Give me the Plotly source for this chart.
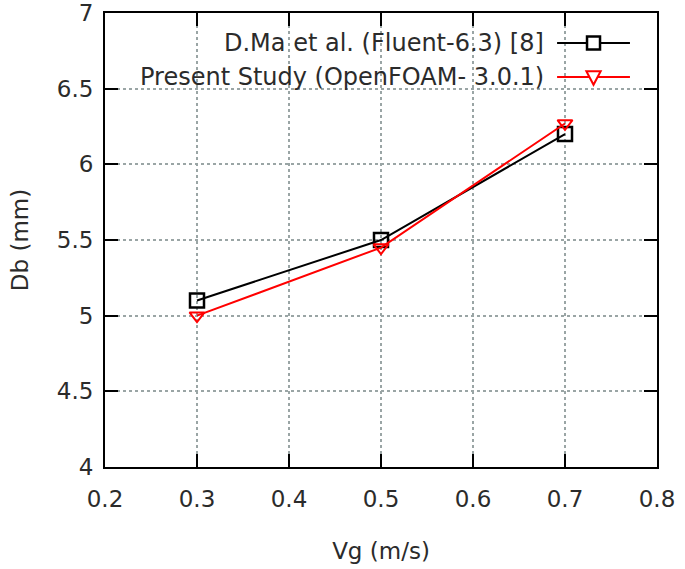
import plotly.graph_objects as go

vg = [0.3, 0.5, 0.7]
dma_fluent = [5.1, 5.5, 6.2]
present_openfoam = [5.0, 5.45, 6.27]

x_ticks = [0.2, 0.3, 0.4, 0.5, 0.6, 0.7, 0.8]
y_ticks = [4, 4.5, 5, 5.5, 6, 6.5, 7]

names = ["D.Ma et al. (Fluent-6.3) [8]", "Present Study (OpenFOAM- 3.0.1)"]

FONT = "DejaVu Sans"
TXT = "#2b2b2b"
PW, PH = 552, 454

fig = go.Figure()
fig.add_trace(go.Scatter(
    x=vg, y=dma_fluent, mode="lines+markers", name=names[0],
    line=dict(color="black", width=2),
    marker=dict(symbol="square-open", size=14, color="black", line=dict(width=2.5)),
    showlegend=False))
fig.add_trace(go.Scatter(
    x=vg, y=present_openfoam, mode="lines+markers", name=names[1],
    line=dict(color="#ff0000", width=2),
    marker=dict(symbol="triangle-down-open", size=13, color="#ff0000", line=dict(width=2)),
    showlegend=False))

# manual legend (text left of sample, gnuplot style)
legend_rows = [(0.934, "black", "square"), (0.859, "#ff0000", "tri")]
x0, x1 = 0.819, 0.951
xm = (x0 + x1) / 2
for (yy, col, sym), nm in zip(legend_rows, names):
    fig.add_annotation(x=0.799, y=yy, xref="paper", yref="paper", text=nm,
                       showarrow=False, xanchor="right", yanchor="middle",
                       font=dict(family=FONT, size=24, color=TXT))
    fig.add_shape(type="line", xref="paper", yref="paper", x0=x0, x1=x1, y0=yy, y1=yy,
                  line=dict(color=col, width=2))
    dx = 6.5 / PW
    dy = 6.5 / PH
    if sym == "square":
        fig.add_shape(type="rect", xref="paper", yref="paper",
                      x0=xm - dx, x1=xm + dx, y0=yy - dy, y1=yy + dy,
                      line=dict(color=col, width=2.5), fillcolor="white")
    else:
        path = f"M {xm - dx*1.1} {yy + dy*0.9} L {xm + dx*1.1} {yy + dy*0.9} L {xm} {yy - dy*1.2} Z"
        fig.add_shape(type="path", xref="paper", yref="paper", path=path,
                      line=dict(color=col, width=2), fillcolor="white")

axis_common = dict(
    showline=True, linecolor="black", linewidth=2, mirror="ticks",
    ticks="inside", ticklen=13, tickwidth=2, tickcolor="black",
    showgrid=True, gridcolor="#9aa5a5", griddash="dot", gridwidth=1.5,
    zeroline=False, tickfont=dict(family=FONT, size=23, color=TXT),
    automargin=False,
)
fig.update_xaxes(range=[0.2, 0.8], tickvals=x_ticks, ticktext=[f"{v:g}" for v in x_ticks],
                 title=dict(text="Vg (m/s)", font=dict(family=FONT, size=23, color=TXT), standoff=32),
                 ticklabelstandoff=10, **axis_common)
fig.update_yaxes(range=[4, 7], tickvals=y_ticks, ticktext=[f"{v:g}" for v in y_ticks],
                 title=dict(text="Db (mm)", font=dict(family=FONT, size=23, color=TXT), standoff=22),
                 ticklabelstandoff=5, **axis_common)

fig.update_layout(
    width=685, height=569,
    margin=dict(l=105, r=28, t=13, b=102),
    plot_bgcolor="white", paper_bgcolor="white",
    font=dict(family=FONT, color=TXT),
)
# remove the default page margin so the figure fills the window exactly
fig.write_html("out.html", config={"displayModeBar": False},
               post_script="document.body.style.margin='0';document.body.style.overflow='hidden';")
